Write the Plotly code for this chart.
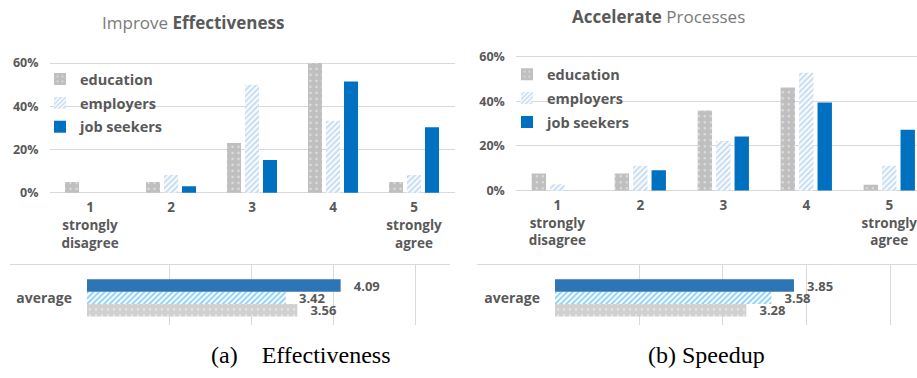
import plotly.graph_objects as go

W, H = 917, 378

# ---------------- data ----------------
categories = ["1<br>strongly<br>disagree", "2", "3", "4", "5<br>strongly<br>agree"]
series = ["education", "employers", "job seekers"]

eff_education = [0.05, 0.05, 0.23, 0.60, 0.05]
eff_employers = [0.0, 0.083, 0.50, 0.333, 0.083]
eff_jobseekers = [0.0, 0.03, 0.152, 0.515, 0.303]

spd_education = [0.077, 0.077, 0.359, 0.462, 0.026]
spd_employers = [0.028, 0.111, 0.222, 0.528, 0.111]
spd_jobseekers = [0.0, 0.091, 0.242, 0.394, 0.273]

avg_category = ["average"]
eff_avg = [3.56, 3.42, 4.09]   # education, employers, job seekers
spd_avg = [3.28, 3.58, 3.85]

pct_tickvals = [0, 0.2, 0.4, 0.6]
pct_ticktext = ["0%", "20%", "40%", "60%"]
avg_tickvals = [1, 2, 3, 4, 5]

titles = ['<span style="color:#7a7a7a">Improve</span> <b>Effectiveness</b>',
          '<b>Accelerate</b> <span style="color:#7a7a7a">Processes</span>']
captions = ["(a)\u00a0\u00a0\u00a0\u00a0Effectiveness", "(b) Speedup"]

# ---------------- styles ----------------
FONT = "Open Sans"
GRAY = "#595959"
GRID = "#d9d9d9"


def xd(a, b):
    return [a / W, min(b / W, 1.0)]


def yd(top, bottom):
    return [1 - bottom / H, 1 - top / H]


top_styles = [
    dict(color="#bfbfbf", pattern=dict(shape=".", fgcolor="white", bgcolor="#bfbfbf", size=6, solidity=0.12)),
    dict(color="#9dc3e6", pattern=dict(shape="/", fgcolor="#94bde6", bgcolor="white", size=4, solidity=0.55)),
    dict(color="#0070c0"),
]
bot_styles = [
    dict(color="#d0d0d0", pattern=dict(shape=".", fgcolor="white", bgcolor="#d0d0d0", size=6, solidity=0.12)),
    dict(color="#20a4ea", pattern=dict(shape="/", fgcolor="#20a4ea", bgcolor="white", size=4, solidity=0.5)),
    dict(color="#2e75b6"),
]

fig = go.Figure()

# ---------------- top charts ----------------
panels = [
    ([eff_education, eff_employers, eff_jobseekers], "x", "y", "legend", "eff"),
    ([spd_education, spd_employers, spd_jobseekers], "x2", "y2", "legend2", "spd"),
]
for vals, xa, ya, leg, key in panels:
    for name, v, st in zip(series, vals, top_styles):
        fig.add_trace(go.Bar(
            x=categories, y=v, name=name, marker=dict(line=dict(width=0), **st),
            xaxis=xa, yaxis=ya, legend=leg, legendgroup=key + name,
            hoverinfo="x+y+name",
        ))

# ---------------- bottom average charts ----------------
bar_h = 0.2065
offsets = [-1.5 * bar_h, -0.5 * bar_h, 0.5 * bar_h]
for avgs, xa, ya in [(eff_avg, "x3", "y3"), (spd_avg, "x4", "y4")]:
    for name, v, st, off in zip(series, avgs, bot_styles, offsets):
        fig.add_trace(go.Bar(
            x=[v], y=[0], orientation="h", name=name, showlegend=False,
            width=bar_h, offset=off, marker=dict(line=dict(width=0), **st),
            text=["\u00a0\u00a0\u00a0" + f"{v:.2f}"], textposition="outside",
            constraintext="none", cliponaxis=False,
            textfont=dict(family=FONT, size=13, color=GRAY, weight="bold"),
            xaxis=xa, yaxis=ya,
        ))

tickfont = dict(family=FONT, size=13.5, color=GRAY, weight="bold")
yfont = dict(family=FONT, size=12.5, color=GRAY, weight="bold")
legfont = dict(family=FONT, size=14.5, color=GRAY, weight="bold")

fig.update_layout(
    width=W, height=H, margin=dict(l=0, r=0, t=0, b=0), autosize=False,
    paper_bgcolor="white", plot_bgcolor="white",
    barmode="group", bargap=0.333, bargroupgap=0.22,
    font=dict(family=FONT, color=GRAY),
    showlegend=True,
    xaxis=dict(domain=xd(49.5, 454.5), range=[-0.5, 4.5], showgrid=False, showline=False,
               ticks="", tickfont=tickfont, ticklabelstandoff=4, fixedrange=True),
    yaxis=dict(domain=yd(56.65, 195.12), range=[-0.005, 0.615], tickvals=pct_tickvals,
               ticktext=pct_ticktext, gridcolor=GRID, gridwidth=1, zeroline=False,
               showline=False, tickfont=yfont, ticklabelstandoff=10, fixedrange=True),
    xaxis2=dict(domain=xd(515.8, 917), range=[-0.5, 4.334], showgrid=False, showline=False,
                ticks="", tickfont=tickfont, ticklabelstandoff=4, fixedrange=True,
                anchor="y2"),
    yaxis2=dict(domain=yd(49.84, 192.85), range=[-0.005, 0.615], tickvals=pct_tickvals,
                ticktext=pct_ticktext, gridcolor=GRID, gridwidth=1, zeroline=False,
                showline=False, tickfont=yfont, ticklabelstandoff=10, fixedrange=True,
                anchor="x2"),
    xaxis3=dict(domain=xd(87, 450), range=[0.99, 1 + (450 - 87) / 82], tickvals=avg_tickvals,
                showticklabels=False, gridcolor=GRID, gridwidth=1, zeroline=False,
                showline=False, anchor="y3", fixedrange=True),
    yaxis3=dict(domain=yd(268, 330), range=[-0.4435, 0.5565], tickvals=[0], ticktext=avg_category,
                showgrid=False, zeroline=False, showline=False, anchor="x3",
                tickfont=dict(family=FONT, size=14, color=GRAY, weight="bold"),
                ticklabelstandoff=14, fixedrange=True),
    xaxis4=dict(domain=xd(555, 917), range=[0.99, 1 + (917 - 555) / 83.75], tickvals=avg_tickvals,
                showticklabels=False, gridcolor=GRID, gridwidth=1, zeroline=False,
                showline=False, anchor="y4", fixedrange=True),
    yaxis4=dict(domain=yd(268, 330), range=[-0.4435, 0.5565], tickvals=[0], ticktext=avg_category,
                showgrid=False, zeroline=False, showline=False, anchor="x4",
                tickfont=dict(family=FONT, size=14, color=GRAY, weight="bold"),
                ticklabelstandoff=14, fixedrange=True),
    legend=dict(x=40 / W, y=1 - 60 / H, xanchor="left", yanchor="top",
                bgcolor="rgba(0,0,0,0)", traceorder="grouped", tracegroupgap=2,
                font=legfont),
    legend2=dict(x=507 / W, y=1 - 55 / H, xanchor="left", yanchor="top",
                 bgcolor="rgba(0,0,0,0)", traceorder="grouped", tracegroupgap=2,
                 font=legfont),
)

# titles
fig.add_annotation(text=titles[0], x=193 / W, y=1 - 18 / H, xref="paper", yref="paper",
                   showarrow=False, xanchor="center", yanchor="middle",
                   font=dict(family=FONT, size=17, color=GRAY))
fig.add_annotation(text=titles[1], x=658.7 / W, y=1 - 11.7 / H, xref="paper", yref="paper",
                   showarrow=False, xanchor="center", yanchor="middle",
                   font=dict(family=FONT, size=17, color=GRAY))
# captions
fig.add_annotation(text=captions[0], x=300 / W, y=1 - 361.7 / H, xref="paper", yref="paper",
                   showarrow=False, xanchor="center", yanchor="middle",
                   font=dict(family="Liberation Serif", size=24, color="black"))
fig.add_annotation(text=captions[1], x=706.5 / W, y=1 - 361.7 / H, xref="paper", yref="paper",
                   showarrow=False, xanchor="center", yanchor="middle",
                   font=dict(family="Liberation Serif", size=24, color="black"))

# separator lines above average charts
for x0, x1 in [(10, 450), (477, 917)]:
    fig.add_shape(type="line", xref="paper", yref="paper", x0=x0 / W, x1=x1 / W,
                  y0=1 - 268 / H, y1=1 - 268 / H, line=dict(color=GRID, width=1))

fig.write_html("out.html")
